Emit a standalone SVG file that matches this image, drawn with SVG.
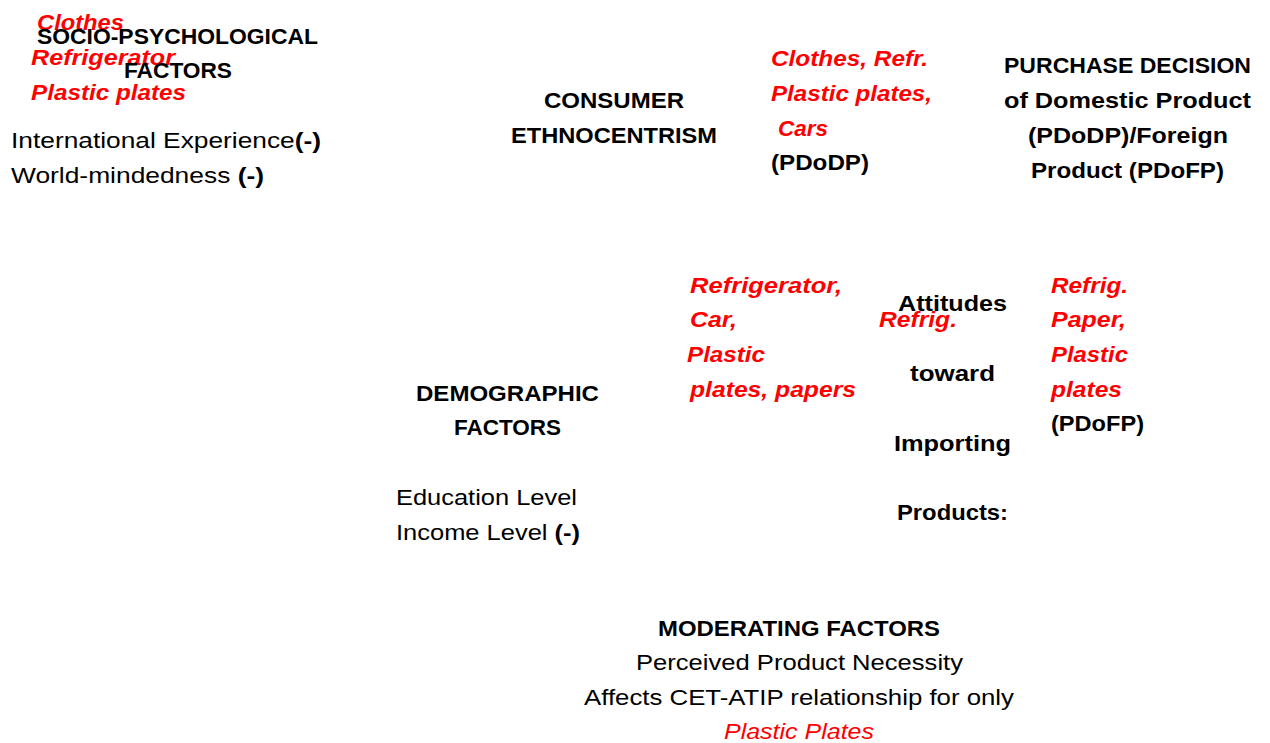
<svg xmlns="http://www.w3.org/2000/svg" width="1270" height="743" viewBox="0 0 1270 743">
<style>
text{font-family:"Liberation Sans",Arial,sans-serif;font-size:21.5px;fill:#000}
.b{font-weight:bold}
.r{fill:#ff0000;font-style:italic}
.rb{fill:#ff0000;font-style:italic;font-weight:bold}
.m{text-anchor:middle}
</style>
<rect width="1270" height="743" fill="#fff"/>
<g id="connectors"/>
<g id="socio-psychological">
<text class="rb" x="37" y="30" textLength="87" lengthAdjust="spacingAndGlyphs">Clothes</text>
<text class="rb" x="31" y="65" textLength="144" lengthAdjust="spacingAndGlyphs">Refrigerator</text>
<text class="rb" x="31" y="100" textLength="155" lengthAdjust="spacingAndGlyphs">Plastic plates</text>
<text class="b m" x="177.5" y="44" textLength="281" lengthAdjust="spacingAndGlyphs">SOCIO-PSYCHOLOGICAL</text>
<text class="b m" x="178" y="78" textLength="108" lengthAdjust="spacingAndGlyphs">FACTORS</text>
<text x="11" y="148" textLength="310" lengthAdjust="spacingAndGlyphs">International Experience<tspan class="b">(-)</tspan></text>
<text x="11" y="183" textLength="253" lengthAdjust="spacingAndGlyphs">World-mindedness <tspan class="b">(-)</tspan></text>
</g>
<g id="consumer-ethnocentrism">
<text class="b m" x="614" y="108" textLength="140" lengthAdjust="spacingAndGlyphs">CONSUMER</text>
<text class="b m" x="614" y="143" textLength="206" lengthAdjust="spacingAndGlyphs">ETHNOCENTRISM</text>
</g>
<g id="label-pdodp">
<text class="rb" x="771" y="66" textLength="157" lengthAdjust="spacingAndGlyphs">Clothes, Refr.</text>
<text class="rb" x="771" y="101" textLength="161" lengthAdjust="spacingAndGlyphs">Plastic plates,</text>
<text class="rb" x="778" y="136" textLength="50" lengthAdjust="spacingAndGlyphs">Cars</text>
<text class="b" x="771" y="170" textLength="98" lengthAdjust="spacingAndGlyphs">(PDoDP)</text>
</g>
<g id="purchase-decision">
<text class="b m" x="1127.5" y="73" textLength="247" lengthAdjust="spacingAndGlyphs">PURCHASE DECISION</text>
<text class="b m" x="1127.5" y="108" textLength="247" lengthAdjust="spacingAndGlyphs">of Domestic  Product</text>
<text class="b m" x="1128" y="143" textLength="200" lengthAdjust="spacingAndGlyphs">(PDoDP)/Foreign</text>
<text class="b m" x="1127.5" y="178" textLength="193" lengthAdjust="spacingAndGlyphs">Product (PDoFP)</text>
</g>
<g id="label-demographic">
<text class="rb" x="690" y="293" textLength="152" lengthAdjust="spacingAndGlyphs">Refrigerator,</text>
<text class="rb" x="690" y="327" textLength="47" lengthAdjust="spacingAndGlyphs">Car,</text>
<text class="rb" x="687" y="362" textLength="78" lengthAdjust="spacingAndGlyphs">Plastic</text>
<text class="rb" x="690" y="397" textLength="166" lengthAdjust="spacingAndGlyphs">plates, papers</text>
</g>
<g id="attitudes">
<text class="b m" x="952.5" y="311" textLength="109" lengthAdjust="spacingAndGlyphs">Attitudes</text>
<text class="rb" x="879" y="327" textLength="78" lengthAdjust="spacingAndGlyphs">Refrig.</text>
<text class="b m" x="952.5" y="381" textLength="85" lengthAdjust="spacingAndGlyphs">toward</text>
<text class="b m" x="952.5" y="451" textLength="117" lengthAdjust="spacingAndGlyphs">Importing</text>
<text class="b m" x="952.5" y="520" textLength="111" lengthAdjust="spacingAndGlyphs">Products:</text>
</g>
<g id="label-pdofp">
<text class="rb" x="1051" y="293" textLength="77" lengthAdjust="spacingAndGlyphs">Refrig.</text>
<text class="rb" x="1051" y="327" textLength="75" lengthAdjust="spacingAndGlyphs">Paper,</text>
<text class="rb" x="1051" y="362" textLength="77" lengthAdjust="spacingAndGlyphs">Plastic</text>
<text class="rb" x="1051" y="397" textLength="71" lengthAdjust="spacingAndGlyphs">plates</text>
<text class="b" x="1051" y="431" textLength="93" lengthAdjust="spacingAndGlyphs">(PDoFP)</text>
</g>
<g id="demographic">
<text class="b m" x="507.5" y="401" textLength="183" lengthAdjust="spacingAndGlyphs">DEMOGRAPHIC</text>
<text class="b m" x="507.5" y="435" textLength="107" lengthAdjust="spacingAndGlyphs">FACTORS</text>
<text x="396" y="505" textLength="181" lengthAdjust="spacingAndGlyphs">Education Level</text>
<text x="396" y="540" textLength="184" lengthAdjust="spacingAndGlyphs">Income Level <tspan class="b">(-)</tspan></text>
</g>
<g id="moderating">
<text class="b m" x="799" y="636" textLength="282" lengthAdjust="spacingAndGlyphs">MODERATING FACTORS</text>
<text class="m" x="799.5" y="670" textLength="327" lengthAdjust="spacingAndGlyphs">Perceived Product Necessity</text>
<text class="m" x="799" y="705" textLength="430" lengthAdjust="spacingAndGlyphs">Affects CET-ATIP relationship for only</text>
<text class="r m" x="799" y="739" textLength="150" lengthAdjust="spacingAndGlyphs">Plastic Plates</text>
</g>
</svg>
